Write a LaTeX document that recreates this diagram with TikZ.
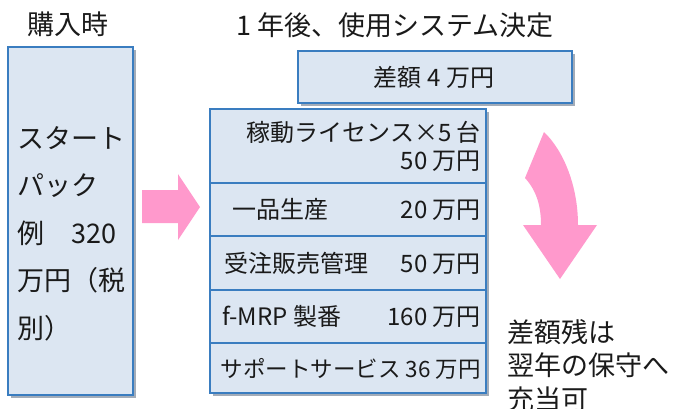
\documentclass[tikz,border=0pt]{standalone}
\usepackage{fontspec}
\setmainfont{Noto Sans CJK JP}
\usetikzlibrary{shadows}
\definecolor{boxfill}{HTML}{DCE6F2}
\definecolor{boxline}{HTML}{3A7DC0}
\definecolor{shadowgray}{HTML}{A3ACB8}
\definecolor{arrowpink}{HTML}{FF99CC}
\definecolor{txt}{HTML}{1A1A1A}
\tikzset{
  bluebox/.style={draw=boxline, line width=1.4pt, fill=boxfill, inner sep=0pt,
    general shadow={fill=shadowgray, shadow xshift=3pt, shadow yshift=-3pt}},
  lbl/.style={text=txt, inner sep=0pt, font=\fontsize{24}{28}\selectfont},
  big/.style={text=txt, inner sep=0pt, font=\fontsize{27}{31}\selectfont},
  pinkarrow/.style={fill=arrowpink, draw=none}
}
\begin{document}
\begin{tikzpicture}[x=1pt,y=-1pt]
\useasboundingbox (0,0) rectangle (677,408);
% titles
\node[big] (t1) at (68,24) {購入時};
\node[big] (t2) at (395,25) {1 年後、使用システム決定};
% left box
\path[bluebox] (8,47) rectangle (133,395);
\node (leftbox) at (70.5,221) {};
\node[big, anchor=base west] (l1) at (17,148) {スタート};
\node[big, anchor=base west] (l2) at (17,195.5) {パック};
\node[big, anchor=base west] (l3) at (17,243) {例　320};
\node[big, anchor=base west] (l4) at (17,290.5) {万円（税};
\node[big, anchor=base west] (l5) at (17,338) {別）};
% right arrow
\path[pinkarrow] (142,190) -- (178,190) -- (178,174) -- (200,207) -- (178,240) -- (178,223) -- (142,223) -- cycle;
% top box
\path[bluebox] (298,51) rectangle (572,103);
\node[lbl] (diff) at (434,77) {差額 4 万円};
% stack
\path[bluebox] (210,109) rectangle (486,183);
\path[bluebox] (210,183) rectangle (486,236);
\path[bluebox] (210,236) rectangle (486,290);
\path[bluebox] (210,290) rectangle (486,343);
\path[bluebox] (210,343) rectangle (486,393);
\node[lbl, anchor=base east] (r1a) at (481,141) {稼動ライセンス×5 台};
\node[lbl, anchor=base east] (r1b) at (481,169) {50 万円};
\node[lbl, anchor=base west] (r2a) at (232,218) {一品生産};
\node[lbl, anchor=base east] (r2b) at (481,218) {20 万円};
\node[lbl, anchor=base west] (r3a) at (224,272) {受注販売管理};
\node[lbl, anchor=base east] (r3b) at (481,272) {50 万円};
\node[lbl, anchor=base west] (r4a) at (222,325) {f-MRP 製番};
\node[lbl, anchor=base east] (r4b) at (481,325) {160 万円};
\node[lbl, anchor=base east, font=\fontsize{22.5}{26}\selectfont] (r5) at (481,377) {サポートサービス 36 万円};
% curved arrow
\path[pinkarrow] (544,132) -- (525,178) .. controls (536,190) and (541,205) .. (541,225)
  -- (523,225) -- (560,279) -- (597,225) -- (578,225)
  .. controls (578,185) and (563,150) .. (544,132) -- cycle;
% note
\node[big, anchor=base west] (n1) at (507,342) {差額残は};
\node[big, anchor=base west] (n2) at (507,375) {翌年の保守へ};
\node[big, anchor=base west] (n3) at (507,409) {充当可};
\end{tikzpicture}
\end{document}
